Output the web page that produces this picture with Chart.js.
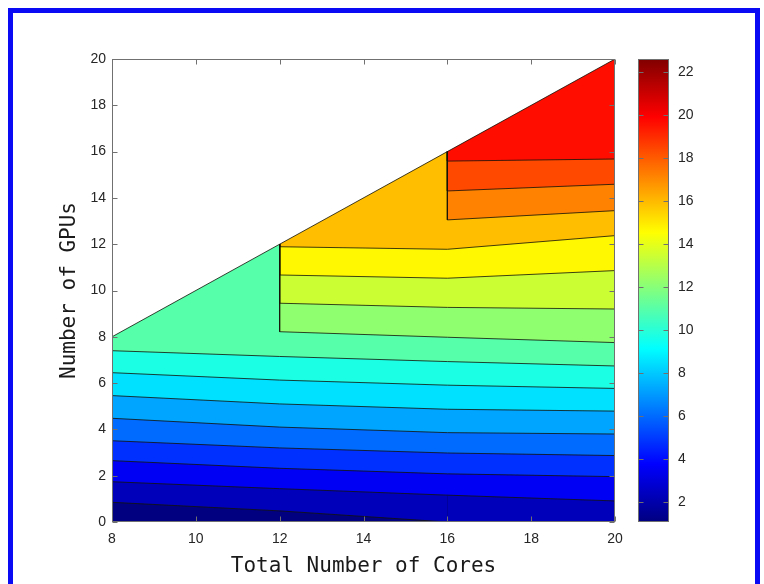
<!DOCTYPE html>
<html>
<head>
<meta charset="utf-8">
<script src="https://cdn.jsdelivr.net/npm/chart.js@4"></script>
<style>
  html, body { margin: 0; padding: 0; background: #fff; }
  #wrap { position: relative; width: 764px; height: 584px; overflow: hidden; }
  #frame { position: absolute; left: 8px; top: 8px; width: 752px; height: 600px;
           border: 5px solid #0a0af5; border-bottom: none; box-sizing: border-box; }
  #mainChart { position: absolute; left: 0; top: 0; }
  #barChart { position: absolute; left: 630px; top: 0; }
</style>
</head>
<body>
<div id="wrap">
  <div id="frame"></div>
  <canvas id="mainChart" width="764" height="584"></canvas>
  <canvas id="barChart" width="134" height="584"></canvas>
</div>
<script>
// grid of core counts where the contours were sampled
const coreGrid = [8, 12, 16, 20];
const coreTicks = [8, 10, 12, 14, 16, 18, 20];
const gpuTicks = [0, 2, 4, 6, 8, 10, 12, 14, 16, 18, 20];
const colorTicks = [2, 4, 6, 8, 10, 12, 14, 16, 18, 20, 22];
const colorRange = [1.07, 22.6];

// contour levels (lower bound of the band above each line)
const levels = [2.31, 3.54, 4.78, 6.01, 7.25, 8.49, 9.72, 10.96, 12.19, 13.43, 14.67, 15.9, 17.14, 18.38, 19.61];

// GPUs where each level is crossed, at 8, 12, 16, 20 cores (null = line not there)
const gpus1 = [0.85, 0.48, 0, 0];
const gpus2 = [1.74, 1.44, 1.16, 0.91];
const gpus3 = [2.65, 2.32, 2.08, 1.96];
const gpus4 = [3.51, 3.20, 2.98, 2.87];
const gpus5 = [4.48, 4.10, 3.86, 3.80];
const gpus6 = [5.46, 5.10, 4.87, 4.79];
const gpus7 = [6.45, 6.13, 5.91, 5.77];
const gpus8 = [7.40, 7.15, 6.93, 6.74];
const gpus9 = [null, 8.22, 7.98, 7.75];
const gpus10 = [null, 9.45, 9.27, 9.20];
const gpus11 = [null, 10.67, 10.53, 10.86];
const gpus12 = [null, 11.89, 11.78, 12.37];
const gpus13 = [null, null, 13.05, 13.45];
const gpus14 = [null, null, 14.30, 14.59];
const gpus15 = [null, null, 15.59, 15.68];

const contourGpus = [gpus1, gpus2, gpus3, gpus4, gpus5, gpus6, gpus7, gpus8,
  gpus9, gpus10, gpus11, gpus12, gpus13, gpus14, gpus15];

const lineColor = "rgba(20,20,10,0.9)";
const tickFont = { family: "Liberation Sans", size: 14 };
const titleFont = { family: "DejaVu Sans Mono", size: 21 };

// matlab jet colormap
const jet = (t) => {
  const c = (v) => Math.round(255 * Math.max(0, Math.min(1, 1.5 - Math.abs(4 * t - v))));
  return `rgb(${c(3)},${c(2)},${c(1)})`;
};
const bandColor = (lvl) => jet((lvl - colorRange[0]) / (colorRange[1] - colorRange[0]));

// inward tick marks + box, like matlab axes
const boxPlugin = {
  id: "box",
  afterDraw(chart) {
    const { ctx, chartArea: a, scales } = chart;
    const L = Math.round(a.left) + 0.5, R = Math.round(a.right) - 0.5;
    const T = Math.round(a.top) + 0.5, B = Math.round(a.bottom) - 0.5;
    ctx.save();
    ctx.strokeStyle = "#707070";
    ctx.lineWidth = 1;
    ctx.strokeRect(L, T, R - L, B - T);
    ctx.beginPath();
    if (scales.x && scales.x.options.display !== false) {
      scales.x.ticks.forEach((t) => {
        const px = Math.round(scales.x.getPixelForValue(t.value)) + 0.5;
        ctx.moveTo(px, T); ctx.lineTo(px, T + 5);
        ctx.moveTo(px, B); ctx.lineTo(px, B - 5);
      });
    }
    scales.y.ticks.forEach((t) => {
      const py = Math.round(scales.y.getPixelForValue(t.value)) + 0.5;
      ctx.moveTo(L, py); ctx.lineTo(L + 5, py);
      ctx.moveTo(R, py); ctx.lineTo(R - 5, py);
    });
    ctx.stroke();
    ctx.restore();
  },
};

// painted bottom to top, each layer fills everything above its contour
const paint = [];
paint.push({
  data: coreGrid.map((x) => ({ x, y: 0 })),
  fill: "end",
  backgroundColor: bandColor(colorRange[0]),
  borderWidth: 0,
});
contourGpus.forEach((g, i) => {
  const pts = [];
  coreGrid.forEach((x, j) => {
    if (g[j] === null) return;
    if (!pts.length && j > 0) pts.push({ x, y: x });
    pts.push({ x, y: g[j] });
  });
  paint.push({
    data: pts,
    fill: "end",
    backgroundColor: bandColor(levels[i]),
    borderColor: lineColor,
    borderWidth: 0.9,
    segment: {
      borderColor: (c) => (c.p0.parsed.y === 0 && c.p1.parsed.y === 0 ? "rgba(0,0,0,0)" : undefined),
    },
  });
});
// nothing above gpus = cores
paint.push({
  data: coreGrid.map((x) => ({ x, y: x })),
  fill: "end",
  backgroundColor: "#ffffff",
  borderColor: lineColor,
  borderWidth: 0.9,
});
paint.forEach((d, i) => {
  d.order = paint.length - i;
  d.pointRadius = 0;
  d.tension = 0;
});

new Chart(document.getElementById("mainChart"), {
  type: "line",
  data: { datasets: paint },
  options: {
    responsive: false,
    animation: false,
    layout: { padding: { top: 59, right: 149, left: 0, bottom: 0 } },
    plugins: {
      legend: { display: false },
      tooltip: { enabled: false },
      filler: { drawTime: "beforeDatasetsDraw" },
    },
    scales: {
      x: {
        type: "linear",
        min: 8,
        max: 20,
        afterBuildTicks: (s) => { s.ticks = coreTicks.map((v) => ({ value: v })); },
        afterFit: (s) => { s.height = 62; },
        grid: { display: false, drawTicks: false },
        border: { display: false },
        ticks: { color: "#262626", font: tickFont, padding: 9, maxRotation: 0 },
        title: { display: true, text: "Total Number of Cores", color: "#1a1a1a", font: titleFont, padding: { top: 0, bottom: 5 } },
      },
      y: {
        type: "linear",
        min: 0,
        max: 20,
        afterBuildTicks: (s) => { s.ticks = gpuTicks.map((v) => ({ value: v })); },
        afterFit: (s) => { s.width = 112; },
        grid: { display: false, drawTicks: false },
        border: { display: false },
        ticks: { color: "#262626", font: tickFont, padding: 6 },
        title: { display: true, text: "Number of GPUs", color: "#1a1a1a", font: titleFont, padding: { top: 57, bottom: 0 } },
      },
    },
  },
  plugins: [boxPlugin],
});

const jetGradient = (ctx) => {
  const a = ctx.chart.chartArea;
  if (!a) return "#888";
  const g = ctx.chart.ctx.createLinearGradient(0, a.bottom, 0, a.top);
  [0, 0.125, 0.25, 0.375, 0.5, 0.625, 0.75, 0.875, 1].forEach((t) => g.addColorStop(t, jet(t)));
  return g;
};

new Chart(document.getElementById("barChart"), {
  type: "bar",
  data: {
    labels: [""],
    datasets: [{
      data: [colorRange],
      backgroundColor: jetGradient,
      borderWidth: 0,
      barPercentage: 1,
      categoryPercentage: 1,
    }],
  },
  options: {
    responsive: false,
    animation: false,
    layout: { padding: { top: 59, bottom: 62, left: 8, right: 0 } },
    plugins: { legend: { display: false }, tooltip: { enabled: false } },
    scales: {
      x: { display: false },
      y: {
        position: "right",
        min: colorRange[0],
        max: colorRange[1],
        afterBuildTicks: (s) => { s.ticks = colorTicks.map((v) => ({ value: v })); },
        afterFit: (s) => { s.width = 95; },
        grid: { display: false, drawTicks: false },
        border: { display: false },
        ticks: { color: "#262626", font: tickFont, padding: 9 },
      },
    },
  },
  plugins: [boxPlugin],
});
</script>
</body>
</html>
